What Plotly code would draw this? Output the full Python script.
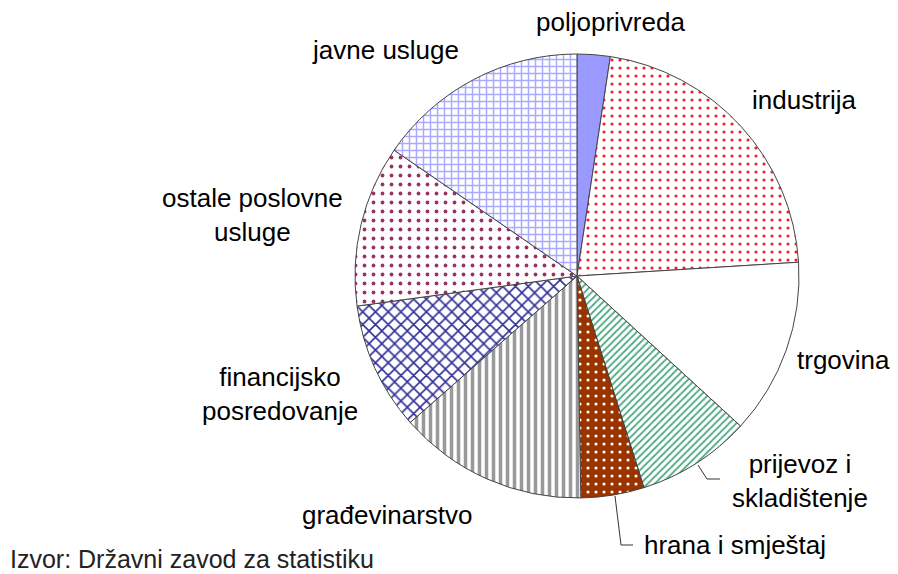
import plotly.graph_objects as go

# ---- data ----
categories = ["poljoprivreda", "industrija", "trgovina", "prijevoz i skladištenje",
              "hrana i smještaj", "građevinarstvo", "financijsko posredovanje",
              "ostale poslovne usluge", "javne usluge"]
values = [2.4, 21.6, 12.8, 8.3, 4.6, 13.8, 9.3, 11.75, 15.4]
label_texts = ["poljoprivreda", "industrija", "trgovina", "prijevoz i<br>skladištenje",
               "hrana i smještaj", "građevinarstvo", "financijsko<br>posredovanje",
               "ostale poslovne<br>usluge", "javne usluge"]
source_text = "Izvor: Državni zavod za statistiku"

# ---- styling ----
W, H = 898, 574
FONT = "Liberation Sans, Arial, sans-serif"
base_colors = ["#9999FF", "#FFFFFF", "#FFFFFF", "#FFFFFF", "#993300",
               "#FFFFFF", "#FFFFFF", "#FFFFFF", "#FFFFFF"]
pat_shapes = ["", ".", "", "/", ".", "|", "x", ".", "+"]
pat_fg = ["#9999FF", "#E8202A", "#FFFFFF", "#4DAA80", "#FFFFFF",
          "#999999", "#2E2E99", "#993366", "#AAAAFF"]
pat_bg = ["#9999FF", "#FFFFFF", "#FFFFFF", "#FFFFFF", "#993300",
          "#FFFFFF", "#FFFFFF", "#FFFFFF", "#FFFFFF"]
pat_size = [8, 8, 8, 5, 8, 7, 9, 9, 7]
pat_solid = [0.3, 0.12, 0.3, 0.35, 0.12, 0.5, 0.32, 0.14, 0.38]

cx, cy, r = 577, 276, 222

fig = go.Figure(go.Pie(
    labels=categories, values=values, sort=False, direction="clockwise",
    rotation=0, textinfo="none", hoverinfo="skip", showlegend=False,
    marker=dict(colors=base_colors,
                line=dict(color="#444444", width=1),
                pattern=dict(shape=pat_shapes, fgcolor=pat_fg, bgcolor=pat_bg,
                             size=pat_size, solidity=pat_solid)),
    domain=dict(x=[(cx - r) / W, (cx + r) / W],
                y=[(H - cy - r) / H, (H - cy + r) / H]),
))

# label positions (pixels from top-left)
label_pos = [(610, 22), (804, 100), (843, 360), (800, 481), (735, 545),
             (387, 515), (280, 394), (252, 215), (385, 50)]

annotations = []
for txt, (x, y) in zip(label_texts, label_pos):
    annotations.append(dict(x=x / W, y=1 - y / H, xref="paper", yref="paper",
                            text=txt, showarrow=False, align="center",
                            xanchor="center", yanchor="middle",
                            font=dict(family=FONT, size=26, color="#000000")))
annotations.append(dict(x=8 / W, y=1 - 559 / H, xref="paper", yref="paper",
                        text=source_text, showarrow=False, xanchor="left",
                        yanchor="middle",
                        font=dict(family=FONT, size=25, color="#222222")))

def px_path(pts):
    return "M " + " L ".join(f"{x / W},{1 - y / H}" for x, y in pts)

leaders = [[(698, 465), (707, 479), (720, 479)],
           [(615, 496), (621, 545), (633, 545)]]
shapes = [dict(type="path", xref="paper", yref="paper", path=px_path(p),
               line=dict(color="#333333", width=1)) for p in leaders]

fig.update_layout(width=W, height=H, margin=dict(l=0, r=0, t=0, b=0),
                  paper_bgcolor="white", plot_bgcolor="white",
                  annotations=annotations, shapes=shapes)
fig.write_html("out.html", config={"displayModeBar": False},
               post_script="document.body.style.margin='0';"
                           "document.body.style.overflow='hidden';")
